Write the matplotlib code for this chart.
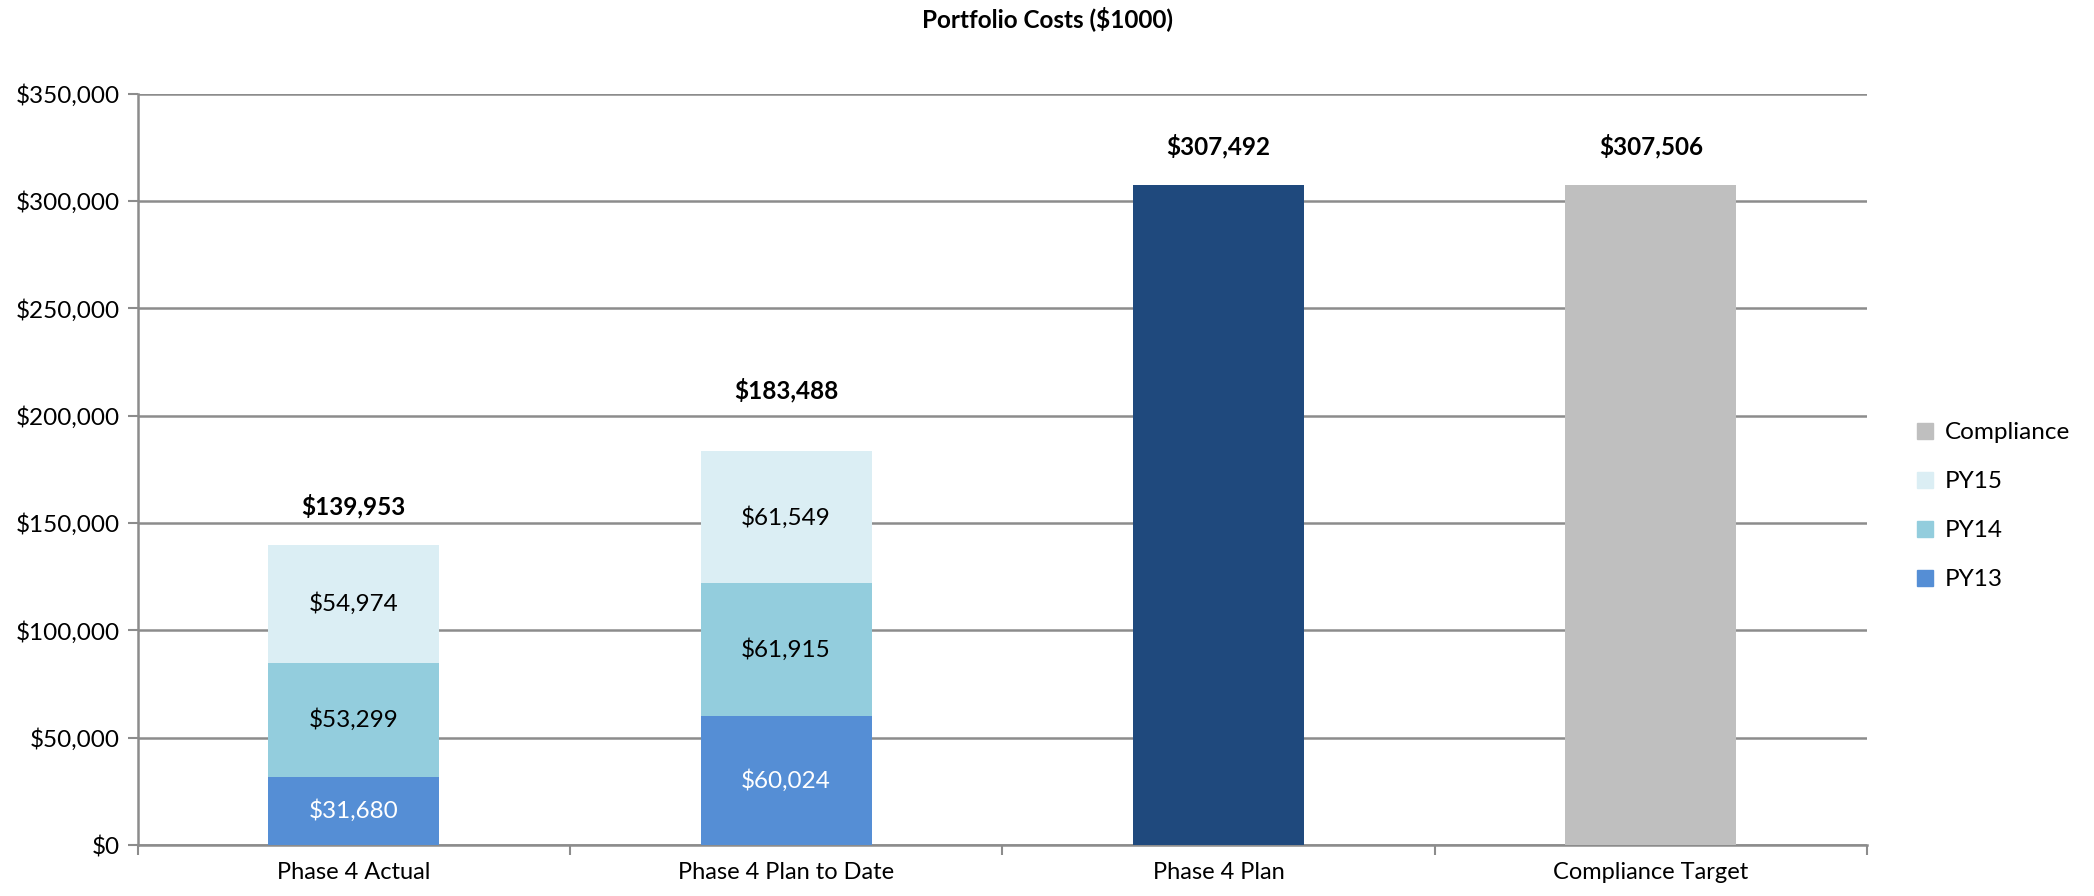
import matplotlib
matplotlib.use("Agg")
from matplotlib import pyplot as plt
from matplotlib.ticker import FuncFormatter, MultipleLocator
from matplotlib.patches import Patch
import numpy as np

plt.rcParams['font.family'] = ['Lato', 'DejaVu Sans']

# data
categories = ["Phase 4 Actual", "Phase 4 Plan to Date", "Phase 4 Plan", "Compliance Target"]
py13 = [31680, 60024]
py14 = [53299, 61915]
py15 = [54974, 61549]
phase4_plan = 307492
compliance = 307506

c_py13 = "#558ED5"
c_py14 = "#93CDDD"
c_py15 = "#DBEEF4"
c_plan = "#1F497D"
c_comp = "#BFBFBF"
grid_c = "#8C8C8C"

def money(v, pos=None):
    return "${:,.0f}".format(v)

fig = plt.figure(figsize=(20.94, 8.96), dpi=100)
ax = fig.add_axes([0.0657, 0.0569, 0.8259, 0.8387])

x = np.arange(len(categories))
w = 0.395
stack_x = x[:2]

b13 = ax.bar(stack_x, py13, w, color=c_py13, zorder=3)
bottom14 = np.array(py13)
b14 = ax.bar(stack_x, py14, w, bottom=bottom14, color=c_py14, zorder=3)
bottom15 = bottom14 + np.array(py14)
b15 = ax.bar(stack_x, py15, w, bottom=bottom15, color=c_py15, zorder=3)
bplan = ax.bar([x[2]], [phase4_plan], w, color=c_plan, zorder=3)
bcomp = ax.bar([x[3]], [compliance], w, color=c_comp, zorder=3)

seg_fs = 17.5
ax.bar_label(b13, labels=[money(v) for v in py13], label_type="center",
             color="white", fontsize=seg_fs)
ax.bar_label(b14, labels=[money(v) for v in py14], label_type="center",
             color="black", fontsize=seg_fs)
ax.bar_label(b15, labels=[money(v) for v in py15], label_type="center",
             color="black", fontsize=seg_fs)

# totals above the bars
totals = list(bottom15 + np.array(py15)) + [phase4_plan, compliance]
pads = [19, 35, 19, 19]
for xi, t, p in zip(x, totals, pads):
    ax.annotate(money(t), (xi, t), xytext=(0, p), textcoords="offset points",
                ha="center", va="bottom", fontsize=seg_fs, fontweight="bold")

ax.set_xlim(-0.5, 3.5)
ax.set_ylim(0, 350000)
ax.yaxis.set_major_locator(MultipleLocator(50000))
ax.yaxis.set_major_formatter(FuncFormatter(money))
ax.set_xticks(x)
ax.set_xticklabels(categories)
ax.set_xticks(np.arange(-0.5, 3.6, 1), minor=True)
ax.tick_params(axis="x", which="major", length=0, pad=12, labelsize=17)
ax.tick_params(axis="x", which="minor", length=7, width=1.5, color=grid_c)
ax.tick_params(axis="y", length=7, width=1.5, color=grid_c, labelsize=17.5, pad=6)

ax.grid(axis="y", color=grid_c, linewidth=1.8, zorder=0)
ax.set_axisbelow(True)
for s in ["top", "right"]:
    ax.spines[s].set_visible(False)
for s in ["left", "bottom"]:
    ax.spines[s].set_color(grid_c)
    ax.spines[s].set_linewidth(1.8)

fig.suptitle("Portfolio Costs ($1000)", y=0.993, x=0.5, fontsize=17.5, fontweight="bold")

handles = [Patch(color=c_comp, label="Compliance"),
           Patch(color=c_py15, label="PY15"),
           Patch(color=c_py14, label="PY14"),
           Patch(color=c_py13, label="PY13")]
fig.legend(handles=handles, loc="center left", bbox_to_anchor=(0.905, 0.435),
           frameon=False, fontsize=17.5, handlelength=0.65, handleheight=0.65,
           handletextpad=0.5, labelspacing=1.15)

fig.savefig("out.png", dpi=100)
